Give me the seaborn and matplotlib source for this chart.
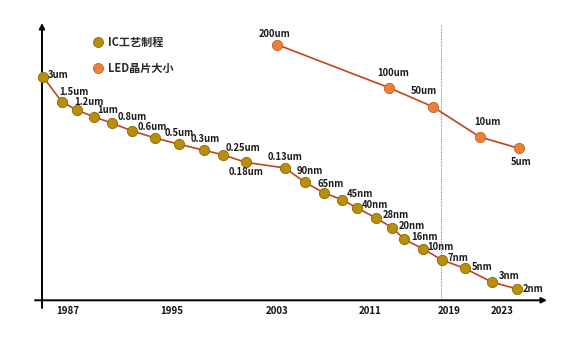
import matplotlib
matplotlib.use("Agg")
import matplotlib.pyplot as plt
import seaborn as sns
import pandas as pd
from matplotlib.lines import Line2D

# ---------------- data (schematic positions) ----------------
ic_labels = ["3um", "1.5um", "1.2um", "1um", "0.8um", "0.6um", "0.5um", "0.3um", "",
             "0.25um", "0.18um", "0.13um", "90nm", "65nm", "45nm", "40nm", "28nm",
             "20nm", "16nm", "10nm", "7nm", "5nm", "3nm", "2nm"]
ic_x = [43, 61.7, 76.7, 93.7, 112.3, 131.7, 155, 179.3, 204.3, 222.7, 245.7, 285,
        305, 324.3, 342, 357.3, 376, 392.3, 404.3, 423.3, 442, 464.7, 491.7, 517]
ic_y = [76.7, 101.7, 110, 116.7, 123.3, 130.7, 138, 144.3, 150.3, 154.7, 162.3, 168,
        182.3, 193, 199.7, 208, 218, 227.7, 239.3, 249, 260, 268.3, 282, 289]

led_labels = ["200um", "100um", "50um", "10um", "5um"]
led_x = [277.3, 389, 432.7, 480, 518.7]
led_y = [44.7, 87.7, 106.7, 137, 148.3]

year_ticks = ["1987", "1995", "2003", "2011", "2019", "2023"]
year_pos = [68, 172, 277, 370, 449, 502]
marker_line_pos = 441

legend_labels = ["IC工艺制程", "LED晶片大小"]

# ---------------- style ----------------
ic_offsets = [(5, -2, "left"), (-2, -10, "left"), (-2, -8, "left"), (4, -7, "left"),
              (5, -6, "left"), (6, -4, "left"), (10, -5, "left"), (11, -5, "left"),
              (0, 0, "left"), (3, -7, "left"), (0, 10, "center"), (0, -11, "center"),
              (-8, -11, "left"), (-7, -9, "left"), (5, -6, "left"), (4, -3, "left"),
              (7, -3, "left"), (6, -2, "left"), (7, -2, "left"), (4, -2, "left"),
              (6, -2, "left"), (7, -1, "left"), (7, -6, "left"), (6, 0, "left")]
led_offsets = [(-3, -11), (4, -15), (-9, -16), (7, -15), (2, 14)]

LINE = "#C4421E"
IC_FILL, IC_EDGE = "#B88E0A", "#8A6A05"
LED_FILL, LED_EDGE = "#EE8035", "#C0602A"

sns.set_theme(style="white")
plt.rcParams["font.family"] = ["Noto Sans CJK SC", "DejaVu Sans"]
plt.rcParams["font.weight"] = "bold"

W, H = 581, 339
axis_y = 300.3
fig = plt.figure(figsize=(W / 100, H / 100), dpi=100)
ax = fig.add_axes([0, (H - axis_y) / H, 1, axis_y / H])
ax.set_xlim(0, W)
ax.set_ylim(axis_y, 0)
for s in ax.spines.values():
    s.set_visible(False)

ic_df = pd.DataFrame({"x": ic_x, "y": ic_y, "label": ic_labels})
led_df = pd.DataFrame({"x": led_x, "y": led_y, "label": led_labels})

# axes with arrows
ax.annotate("", xy=(42, 23), xytext=(42, 308),
            arrowprops=dict(arrowstyle="-|>", lw=1.4, color="black", mutation_scale=8,
                            shrinkA=0, shrinkB=0), annotation_clip=False)
ax.annotate("", xy=(547, axis_y), xytext=(35, axis_y),
            arrowprops=dict(arrowstyle="-|>", lw=1.4, color="black", mutation_scale=8,
                            shrinkA=0, shrinkB=0), annotation_clip=False)

# dotted vertical line
ax.vlines(marker_line_pos, 25, axis_y, colors="#8a8a8a", linestyles=(0, (1, 1)),
          lw=0.8, zorder=1)

# lines
sns.lineplot(data=ic_df, x="x", y="y", ax=ax, color=LINE, lw=1.2, sort=False, zorder=2)
sns.lineplot(data=led_df, x="x", y="y", ax=ax, color=LINE, lw=1.2, sort=False, zorder=2)
# markers
sns.scatterplot(data=ic_df, x="x", y="y", ax=ax, color=IC_FILL, edgecolor=IC_EDGE,
                linewidth=0.6, s=55, zorder=3)
sns.scatterplot(data=led_df, x="x", y="y", ax=ax, color=LED_FILL, edgecolor=LED_EDGE,
                linewidth=0.6, s=55, zorder=3)
ax.set_xlabel("")
ax.set_ylabel("")
ax.set_yticks([])
ax.set_xticks(year_pos)
ax.set_xticklabels(year_ticks, fontsize=7, fontweight="bold", color="#111111")
ax.tick_params(axis="x", length=0, pad=4)
ax.set_xlim(0, W)
ax.set_ylim(axis_y, 0)

# point labels
for (x, y, t), (dx, dy, ha) in zip(zip(ic_x, ic_y, ic_labels), ic_offsets):
    if t:
        ax.annotate(t, (x, y), xytext=(dx, -dy), textcoords="offset pixels",
                    ha=ha, va="center", fontsize=6.8, fontweight="bold", color="#1a1a1a")
for x, y, t, (dx, dy) in zip(led_x, led_y, led_labels, led_offsets):
    ax.annotate(t, (x, y), xytext=(dx, -dy), textcoords="offset pixels",
                ha="center", va="center", fontsize=6.8, fontweight="bold", color="#1a1a1a")

# legend
handles = [
    Line2D([], [], ls="", marker="o", ms=7.2, mfc=IC_FILL, mec=IC_EDGE, mew=0.6),
    Line2D([], [], ls="", marker="o", ms=7.2, mfc=LED_FILL, mec=LED_EDGE, mew=0.6),
]
leg = ax.legend(handles, legend_labels, loc="upper left",
                bbox_to_anchor=(84 / W, 1 - 26 / axis_y), frameon=False,
                handlelength=0.8, handletextpad=0.5, labelspacing=1.2,
                borderpad=0.4, prop={"size": 8, "weight": "bold"})
for t in leg.get_texts():
    t.set_color("#2a2a2a")

fig.savefig("out.png", dpi=100, facecolor="white")
